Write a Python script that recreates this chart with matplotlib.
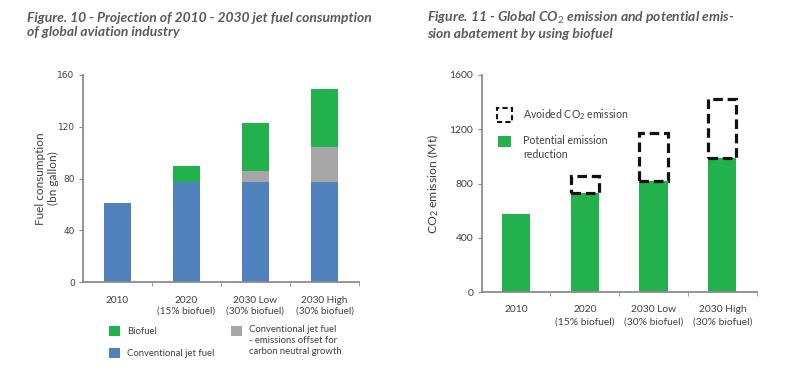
import matplotlib
matplotlib.use('Agg')
import matplotlib.pyplot as plt
from matplotlib.patches import Rectangle

plt.rcParams['mathtext.fontset'] = 'custom'
plt.rcParams['mathtext.rm'] = 'Lato'
plt.rcParams['mathtext.it'] = 'Lato:italic'
plt.rcParams['mathtext.bf'] = 'Lato:bold'

# ---- data ------------------------------------------------------------------
categories = ['2010', '2020\n(15% biofuel)', '2030 Low\n(30% biofuel)', '2030 High\n(30% biofuel)']
conventional = [61, 77, 77, 77]
offset_fuel = [0, 0, 9, 27]
biofuel = [0, 13, 37, 45]

emission_reduction = [580, 730, 820, 990]
avoided_emission = [0, 130, 350, 430]

fuel_ticks = [0, 40, 80, 120, 160]
co2_ticks = [0, 400, 800, 1200, 1600]

BLUE = '#4F81BD'
GREEN = '#22B14C'
GREY = '#A6A6A6'
AXIS = '#8C8C8C'
TXT = '#404040'
TITLE = '#5A5A5A'
FONT = 'Lato'

W, H = 795, 378
fig = plt.figure(figsize=(W / 100, H / 100), dpi=100)


def px(x, y):
    return x / W, 1 - y / H


def style_axes(ax, ticks, pad):
    for s in ['top', 'right']:
        ax.spines[s].set_visible(False)
    for s in ['left', 'bottom']:
        ax.spines[s].set_color(AXIS)
        ax.spines[s].set_linewidth(1.3)
    ax.set_xlim(-0.5, 3.5)
    ax.set_ylim(ticks[0], ticks[-1])
    ax.set_yticks(ticks)
    ax.tick_params(axis='y', length=3, color=AXIS, pad=3)
    ax.set_xticks(range(len(categories)))
    ax.set_xticks([0.5, 1.5, 2.5, 3.5], minor=True)
    ax.tick_params(axis='x', which='major', length=0, pad=pad)
    ax.tick_params(axis='x', which='minor', length=3, color=AXIS)


################################################################################
# Figure 10
ax1 = fig.add_axes([83 / W, 1 - 282 / H, 276 / W, 207 / H])
x = list(range(len(categories)))
bw = 0.39
ax1.bar(x, conventional, width=bw, color=BLUE, linewidth=0)
ax1.bar(x, offset_fuel, width=bw, bottom=conventional, color=GREY, linewidth=0)
base = [c + o for c, o in zip(conventional, offset_fuel)]
ax1.bar(x, biofuel, width=bw, bottom=base, color=GREEN, linewidth=0)
style_axes(ax1, fuel_ticks, 10)
ax1.set_yticklabels([str(t) for t in fuel_ticks], fontsize=6.5, color=TXT, family='DejaVu Sans')
ax1.set_xticklabels(categories, fontsize=7.2, color=TXT, family=FONT, linespacing=1.3)
ax1.set_ylabel('Fuel consumption\n(bn gallon)', fontsize=8.5, color=TXT, family=FONT, labelpad=-1)

fig.text(*px(27, 25), 'Figure. 10 - Projection of 2010 - 2030 jet fuel consumption\nof global aviation industry',
         fontsize=10, style='italic', weight='bold', color=TITLE, family=FONT, va='center', linespacing=1.25)

# legend (left)
leg1 = [(109, 326, GREEN, 'Biofuel'),
        (109, 348, BLUE, 'Conventional jet fuel'),
        (231, 326, GREY, 'Conventional jet fuel\n- emissions offset for\ncarbon neutral growth')]
for lx, ly, col, lab in leg1:
    fig.patches.append(Rectangle(px(lx, ly + 10), 11 / W, 10 / H, transform=fig.transFigure,
                                 facecolor=col, edgecolor='none'))
    fig.text(*px(lx + 18, ly + 5 if '\n' not in lab else ly - 1), lab, fontsize=6.8, color=TXT, family=FONT,
             va='top' if '\n' in lab else 'center', linespacing=1.3)

################################################################################
# Figure 11
ax2 = fig.add_axes([481.7 / W, 1 - 292.3 / H, 275 / W, 217.3 / H])
ax2.bar(x, emission_reduction, width=0.41, color=GREEN, linewidth=0)
xs = [i for i, v in zip(x, avoided_emission) if v > 0]
ax2.bar(xs, [v for v in avoided_emission if v > 0], width=0.41,
        bottom=[b for b, v in zip(emission_reduction, avoided_emission) if v > 0], fill=False,
        edgecolor='#111111', linewidth=2.3, linestyle=(0, (3, 1.5)))
style_axes(ax2, co2_ticks, 9)
ax2.set_yticklabels([str(t) for t in co2_ticks], fontsize=7.5, color=TXT, family=FONT)
ax2.set_xticklabels(categories, fontsize=7.4, color=TXT, family=FONT, linespacing=1.55)
ax2.set_ylabel('CO$_2$ emission (Mt)', fontsize=8.8, color=TXT, family=FONT, labelpad=6)

fig.text(*px(427, 25), 'Figure. 11 - Global CO$_2$ emission and potential emis-\nsion abatement by using biofuel',
         fontsize=10, style='italic', weight='bold', color=TITLE, family=FONT, va='center', linespacing=1.25)

# legend (right)
fig.patches.append(Rectangle(px(497, 122), 15 / W, 14 / H, transform=fig.transFigure,
                             fill=False, edgecolor='#111111', linewidth=1.5, linestyle=(0, (2.5, 1.5))))
fig.text(*px(523, 115), 'Avoided CO$_2$ emission', fontsize=7.6, color=TXT, family=FONT, va='center')
fig.patches.append(Rectangle(px(498, 147), 13 / W, 11 / H, transform=fig.transFigure,
                             facecolor=GREEN, edgecolor='none'))
fig.text(*px(523, 135), 'Potential emission\nreduction', fontsize=7.6, color=TXT, family=FONT, va='top',
         linespacing=1.35)

fig.savefig('out.png', dpi=100)
